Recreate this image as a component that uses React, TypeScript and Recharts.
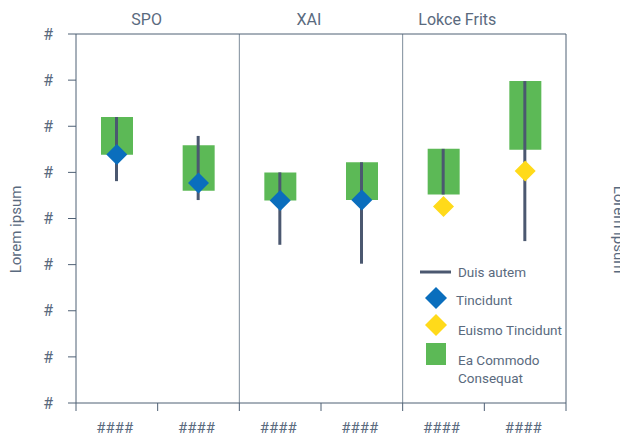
import React from 'react';
import { ComposedChart, Bar, Scatter, XAxis, YAxis, ReferenceLine, Legend } from 'recharts';

const categories = ['SPO-1', 'SPO-2', 'XAI-1', 'XAI-2', 'LF-1', 'LF-2'];
const tickLabels = ['####', '####', '####', '####', '####', '####'];
const groups = ['SPO', 'XAI', 'Lokce Frits'];
const yTicks = [0, 1, 2, 3, 4, 5, 6, 7, 8];

// green box (Ea Commodo Consequat)
const boxLow = [5.38, 4.6, 4.39, 4.4, 4.52, 5.49];
const boxHigh = [6.2, 5.59, 5.0, 5.22, 5.51, 6.98];
// dark line (Duis autem)
const lineLow = [4.81, 4.4, 3.43, 3.02, 4.52, 3.51];
const lineHigh = [6.2, 5.79, 5.0, 5.22, 5.51, 6.98];
// diamonds
const tincidunt = [5.39, 4.77, 4.39, 4.4, null, null];
const euismo = [null, null, null, null, 4.26, 5.03];

const legendLabels = ['Duis autem', 'Tincidunt', 'Euismo Tincidunt', 'Ea Commodo Consequat'];

const data = categories.map((cat, i) => ({
  cat,
  pos: i + 0.5,
  box: [boxLow[i], boxHigh[i]],
  line: [lineLow[i], lineHigh[i]],
  blue: tincidunt[i],
  yellow: euismo[i],
}));

const FONT = "Roboto, 'Open Sans', sans-serif";
const TEXT = '#5a6a7e';
const AXIS = '#4f6075';
const DIVIDER = '#7d8c9b';
const LINE = '#4b5870';
const GREEN = '#5cb956';
const BLUE = '#0a6ebd';
const YELLOW = '#ffda1a';

const groupDx = [-11, -12, -27];

const diamond = (fill: string) => (props: any) => {
  const { cx, cy } = props;
  if (cx == null || cy == null || isNaN(cx) || isNaN(cy)) return <g />;
  const r = 10.5;
  return <polygon points={`${cx},${cy - r} ${cx + r},${cy} ${cx},${cy + r} ${cx - r},${cy}`} fill={fill} />;
};

const groupTick = (props: any) => {
  const { x, y, index } = props;
  return (
    <text x={x + groupDx[index]} y={y - 9} textAnchor="middle" fill={TEXT} fontSize={16} fontFamily={FONT}>
      {groups[index]}
    </text>
  );
};

// integer ticks = category borders (tick marks), half ticks = category labels
const bottomTick = (props: any) => {
  const { x, y, payload } = props;
  const v = payload.value;
  if (Number.isInteger(v)) {
    return <line x1={x} x2={x} y1={y} y2={y + 8} stroke={AXIS} />;
  }
  return (
    <text x={x - 2} y={y + 25} textAnchor="middle" dominantBaseline="central" fill={TEXT} fontSize={15} fontFamily={FONT}>
      {tickLabels[Math.floor(v)]}
    </text>
  );
};

const sideLabel = (x: number, angle: number) => (props: any) => {
  const { viewBox } = props;
  const y = viewBox.y + viewBox.height / 2 + 11;
  return (
    <text x={x} y={y} transform={`rotate(${angle} ${x} ${y})`} textAnchor="middle" dominantBaseline="central" fill={TEXT} fontSize={15} fontFamily={FONT}>
      Lorem ipsum
    </text>
  );
};

const renderLegend = () => {
  const t = { fill: TEXT, fontSize: 13.5, fontFamily: FONT };
  const last = legendLabels[3].split(' ');
  return (
    <svg width={160} height={135}>
      <line x1={10} x2={41} y1={14} y2={14} stroke={LINE} strokeWidth={3} />
      <text x={48} y={14} dominantBaseline="central" {...t}>{legendLabels[0]}</text>
      <polygon points="26,29 37,40 26,51 15,40" fill={BLUE} />
      <text x={46} y={42} dominantBaseline="central" {...t}>{legendLabels[1]}</text>
      <polygon points="26,56 37,67 26,78 15,67" fill={YELLOW} />
      <text x={48} y={72} dominantBaseline="central" {...t}>{legendLabels[2]}</text>
      <rect x={16} y={85} width={20} height={22} fill={GREEN} />
      <text x={48} y={102} dominantBaseline="central" {...t}>{last.slice(0, 2).join(' ')}</text>
      <text x={48} y={120} dominantBaseline="central" {...t}>{last.slice(2).join(' ')}</text>
    </svg>
  );
};

const bottomTicks = Array.from({ length: categories.length * 2 + 1 }, (_, i) => i / 2);
const groupCenters = groups.map((_, i) => i * 2 + 1);

export default function App() {
  return (
    <ComposedChart
      width={620}
      height={433}
      data={data}
      margin={{ top: 0, right: 0, bottom: 0, left: 0 }}
    >
      <XAxis xAxisId="main" dataKey="cat" hide height={0} />
      <XAxis xAxisId="whisker" dataKey="cat" hide height={0} />
      <XAxis
        xAxisId="num"
        dataKey="pos"
        type="number"
        domain={[0, categories.length]}
        allowDataOverflow
        ticks={bottomTicks}
        interval={0}
        height={38}
        axisLine={{ stroke: AXIS }}
        tickLine={false}
        tickSize={0}
        tickMargin={0}
        tick={bottomTick}
      />
      <XAxis
        xAxisId="top"
        orientation="top"
        dataKey="pos"
        type="number"
        domain={[0, categories.length]}
        allowDataOverflow
        ticks={groupCenters}
        interval={0}
        height={26}
        axisLine={{ stroke: AXIS }}
        tickLine={false}
        tickSize={0}
        tickMargin={0}
        tick={groupTick}
      />
      <YAxis
        yAxisId="left"
        domain={[0, 8]}
        ticks={yTicks}
        width={68}
        axisLine={{ stroke: AXIS }}
        tickLine={{ stroke: AXIS }}
        tickSize={8}
        tickMargin={15}
        tickFormatter={() => '#'}
        tick={{ fill: TEXT, fontSize: 16, fontFamily: FONT }}
        interval={0}
        label={{ content: sideLabel(8, -90) }}
      />
      <YAxis
        yAxisId="right"
        orientation="right"
        domain={[0, 8]}
        ticks={yTicks}
        width={62}
        axisLine={{ stroke: AXIS }}
        tickLine={{ stroke: AXIS }}
        tickSize={8}
        tickMargin={5}
        tickFormatter={() => '#'}
        tick={{ fill: TEXT, fontSize: 16, fontFamily: FONT }}
        interval={0}
        label={{ content: sideLabel(611, 90) }}
      />
      <ReferenceLine xAxisId="num" yAxisId="left" x={2} stroke={DIVIDER} />
      <ReferenceLine xAxisId="num" yAxisId="left" x={4} stroke={DIVIDER} />
      <Bar xAxisId="main" yAxisId="left" dataKey="box" name={legendLabels[3]} barSize={32} fill={GREEN} isAnimationActive={false} />
      <Bar xAxisId="whisker" yAxisId="left" dataKey="line" name={legendLabels[0]} barSize={3} fill={LINE} isAnimationActive={false} />
      <Scatter xAxisId="main" yAxisId="left" dataKey="blue" name={legendLabels[1]} shape={diamond(BLUE)} isAnimationActive={false} />
      <Scatter xAxisId="main" yAxisId="left" dataKey="yellow" name={legendLabels[2]} shape={diamond(YELLOW)} isAnimationActive={false} />
      <Legend
        layout="vertical"
        align="center"
        verticalAlign="middle"
        content={renderLegend}
        wrapperStyle={{ left: 402, top: 250, width: 160, height: 135 }}
      />
    </ComposedChart>
  );
}
